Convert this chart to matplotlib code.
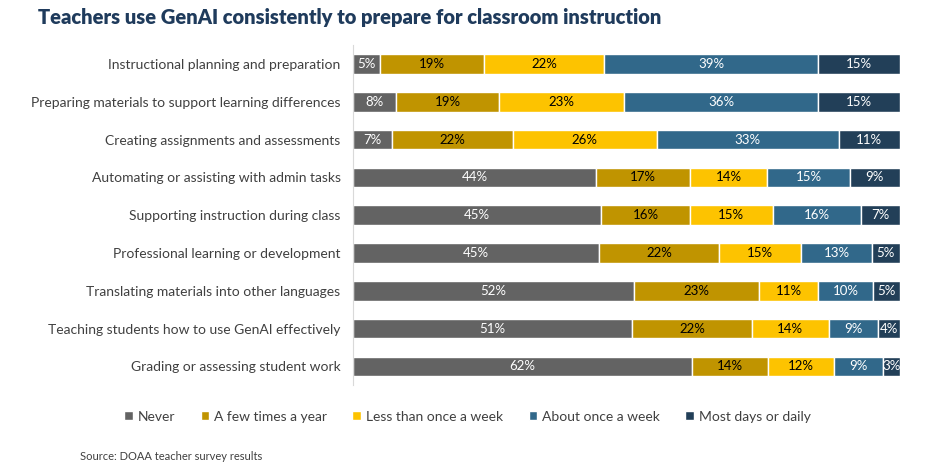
import numpy as np
import matplotlib.pyplot as plt

plt.rcParams['font.family'] = ['Lato', 'DejaVu Sans']

categories = [
    "Instructional planning and preparation",
    "Preparing materials to support learning differences",
    "Creating assignments and assessments",
    "Automating or assisting with admin tasks",
    "Supporting instruction during class",
    "Professional learning or development",
    "Translating materials into other languages",
    "Teaching students how to use GenAI effectively",
    "Grading or assessing student work",
]
series_names = ["Never", "A few times a year", "Less than once a week",
                "About once a week", "Most days or daily"]
never = [5, 8, 7, 44, 45, 45, 52, 51, 62]
few_year = [19, 19, 22, 17, 16, 22, 23, 22, 14]
less_week = [22, 23, 26, 14, 15, 15, 11, 14, 12]
once_week = [39, 36, 33, 15, 16, 13, 10, 9, 9]
daily = [15, 15, 11, 9, 7, 5, 5, 4, 3]

colors = ["#636363", "#C09400", "#FDC300", "#31688A", "#223F58"]
text_colors = ["white", "black", "black", "white", "white"]

data = np.array([never, few_year, less_week, once_week, daily], dtype=float)
shares = data / data.sum(axis=0) * 100

fig = plt.figure(figsize=(9.39, 4.75), dpi=100)
ax = fig.add_axes([0.376, 0.189, 0.582, 0.716])

y = np.arange(len(categories))
left = np.zeros(len(categories))
for i, name in enumerate(series_names):
    bars = ax.barh(y, shares[i], left=left, height=0.52, color=colors[i],
                   edgecolor="white", linewidth=1, label=name)
    for j, b in enumerate(bars):
        ax.text(b.get_x() + b.get_width() / 2, y[j], f"{int(data[i, j])}%",
                ha="center", va="center", color=text_colors[i], fontsize=9.5)
    left += shares[i]

ax.set_xlim(0, 100)
ax.set_ylim(len(categories) - 0.5, -0.5)
ax.set_yticks(y)
ax.set_yticklabels(categories, fontsize=10, color="#404040")
ax.tick_params(axis="y", length=0, pad=9)
ax.set_xticks([])
for s in ["top", "right", "bottom"]:
    ax.spines[s].set_visible(False)
ax.spines["left"].set_color("#D9D9D9")

fig.text(0.04, 0.963, "Teachers use GenAI consistently to prepare for classroom instruction",
         fontsize=14.5, fontweight="heavy", color="#1F3B5C", va="center")

fig.legend(loc="center", bbox_to_anchor=(0.498, 0.123), ncol=5, frameon=False,
           fontsize=10, handlelength=0.6, handleheight=0.6, handletextpad=0.4,
           columnspacing=1.8, labelcolor="#404040")

fig.text(0.085, 0.038, "Source: DOAA teacher survey results", fontsize=8,
         color="#404040", va="center")

fig.savefig("out.png", dpi=100)
